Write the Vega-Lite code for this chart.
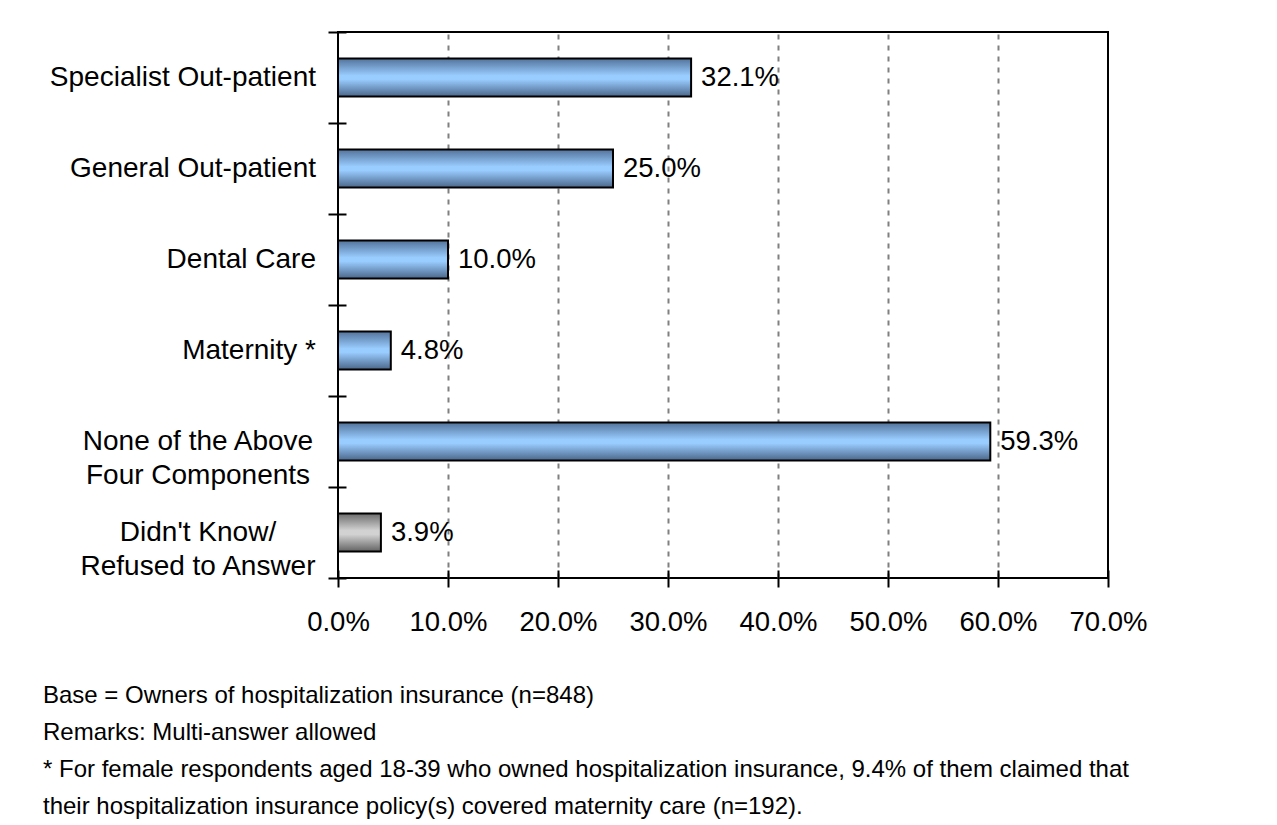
{
  "$schema": "https://vega.github.io/schema/vega-lite/v6.json",
  "width": 770,
  "height": 546,
  "autosize": {"type": "none"},
  "padding": {"left": 338, "top": 32, "right": 169, "bottom": 247},
  "background": "#ffffff",
  "config": {
    "font": "Liberation Sans",
    "view": {"stroke": "#000000", "strokeWidth": 2},
    "text": {"font": "Liberation Sans", "color": "#000000"}
  },
  "title": {
    "text": [
      "Base = Owners of hospitalization insurance (n=848)",
      "Remarks: Multi-answer allowed",
      "* For female respondents aged 18-39 who owned hospitalization insurance, 9.4% of them claimed that",
      "their hospitalization insurance policy(s) covered maternity care (n=192)."
    ],
    "orient": "bottom",
    "anchor": "start",
    "frame": "group",
    "align": "left",
    "dx": -295,
    "offset": 48,
    "font": "Liberation Sans",
    "fontSize": 24,
    "fontWeight": "normal",
    "lineHeight": 37,
    "color": "#000000"
  },
  "data": {
    "values": [
      {"item": "Specialist Out-patient", "share": 0.321, "kind": "component"},
      {"item": "General Out-patient", "share": 0.25, "kind": "component"},
      {"item": "Dental Care", "share": 0.1, "kind": "component"},
      {"item": "Maternity *", "share": 0.048, "kind": "component"},
      {"item": "None of the Above\nFour Components", "share": 0.593, "kind": "component"},
      {"item": "Didn't Know/\nRefused to Answer", "share": 0.039, "kind": "unsure"}
    ]
  },
  "encoding": {
    "y": {
      "field": "item",
      "type": "nominal",
      "sort": null,
      "scale": {"paddingInner": 0, "paddingOuter": 0},
      "axis": {
        "title": null,
        "domain": false,
        "grid": false,
        "labels": false,
        "offset": -8,
        "tickSize": 18,
        "tickWidth": 2,
        "tickColor": "#000000",
        "tickBand": "extent"
      }
    }
  },
  "layer": [
    {
      "transform": [{"filter": "datum.kind === 'component'"}],
      "mark": {
        "type": "bar",
        "height": {"band": 0.42},
        "stroke": "#000000",
        "strokeWidth": 2,
        "fill": {
          "gradient": "linear",
          "x1": 0, "y1": 0, "x2": 0, "y2": 1,
          "stops": [
            {"offset": 0, "color": "#52729a"},
            {"offset": 0.45, "color": "#99ccff"},
            {"offset": 0.55, "color": "#99ccff"},
            {"offset": 1, "color": "#4a6689"}
          ]
        }
      },
      "encoding": {
        "x": {
          "field": "share",
          "type": "quantitative",
          "scale": {"domain": [0, 0.7], "nice": false},
          "axis": {
            "title": null,
            "values": [0, 0.1, 0.2, 0.3, 0.4, 0.5, 0.6, 0.7],
            "format": ".1%",
            "domain": false,
            "offset": -8,
            "tickSize": 17,
            "tickWidth": 2,
            "tickColor": "#000000",
            "labelFont": "Liberation Sans",
            "labelFontSize": 27.5,
            "labelColor": "#000000",
            "labelPadding": 21,
            "labelFlush": false,
            "labelOverlap": false,
            "grid": true,
            "gridColor": "#808080",
            "gridWidth": 2,
            "gridDash": [5, 6],
            "gridOpacity": {"condition": {"test": "datum.value <= 0 || datum.value >= 0.7", "value": 0}, "value": 1}
          }
        }
      }
    },
    {
      "transform": [{"filter": "datum.kind === 'unsure'"}],
      "mark": {
        "type": "bar",
        "height": {"band": 0.42},
        "stroke": "#000000",
        "strokeWidth": 2,
        "fill": {
          "gradient": "linear",
          "x1": 0, "y1": 0, "x2": 0, "y2": 1,
          "stops": [
            {"offset": 0, "color": "#6c6c6c"},
            {"offset": 0.45, "color": "#d2d2d2"},
            {"offset": 0.55, "color": "#d2d2d2"},
            {"offset": 1, "color": "#626262"}
          ]
        }
      },
      "encoding": {
        "x": {"field": "share", "type": "quantitative"}
      }
    },
    {
      "mark": {"type": "text", "align": "left", "baseline": "middle", "dx": 10, "fontSize": 27.5, "color": "#000000"},
      "encoding": {
        "x": {"field": "share", "type": "quantitative"},
        "text": {"field": "share", "type": "quantitative", "format": ".1%"}
      }
    },
    {
      "transform": [{"filter": "indexof(datum.item, '\\n') < 0"}],
      "mark": {"type": "text", "align": "right", "baseline": "middle", "dx": -22, "fontSize": 28, "color": "#000000"},
      "encoding": {
        "x": {"datum": 0},
        "text": {"field": "item", "type": "nominal"}
      }
    },
    {
      "transform": [{"filter": "indexof(datum.item, '\\n') >= 0"}],
      "mark": {"type": "text", "align": "center", "baseline": "middle", "dx": -140, "fontSize": 28, "lineHeight": 34, "lineBreak": "\n", "color": "#000000"},
      "encoding": {
        "x": {"datum": 0},
        "text": {"field": "item", "type": "nominal"}
      }
    }
  ]
}
